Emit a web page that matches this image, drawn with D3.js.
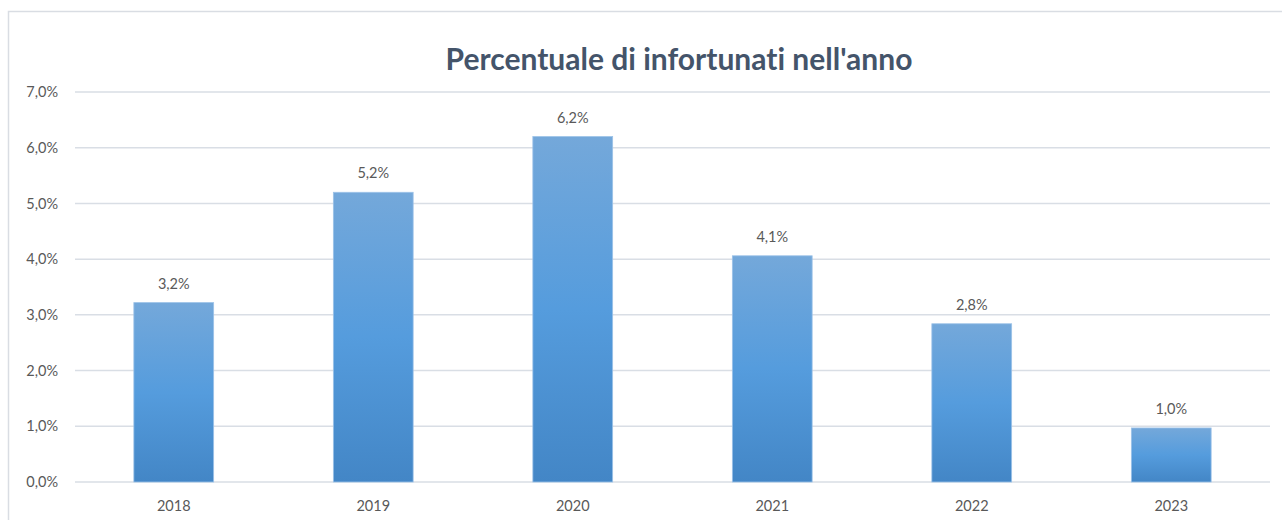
<!DOCTYPE html>
<html><head><meta charset="utf-8">
<script src="https://cdn.jsdelivr.net/npm/d3@7"></script>
<style>body{margin:0;background:#fff;}svg{display:block;font-family:Lato,"Open Sans",sans-serif;font-variant-ligatures:none;}</style>
</head><body>
<svg id="c" width="1282" height="520"></svg>
<script>
const categories = ["2018","2019","2020","2021","2022","2023"];
const values = [3.22, 5.2, 6.2, 4.06, 2.84, 0.97];
const yTicks = [0,1,2,3,4,5,6,7];
const title = "Percentuale di infortunati nell'anno";

const svg = d3.select("#c");

// chart border
svg.append("rect").attr("x",8.5).attr("y",11.5).attr("width",1290).attr("height",520)
  .attr("fill","none").attr("stroke","#d9dde3").attr("stroke-width",1.5);

const defs = svg.append("defs");
const g = defs.append("linearGradient").attr("id","bg").attr("x1",0).attr("y1",0).attr("x2",0).attr("y2",1);
g.append("stop").attr("offset","0%").attr("stop-color","#74a8da");
g.append("stop").attr("offset","50%").attr("stop-color","#559cdd");
g.append("stop").attr("offset","100%").attr("stop-color","#4386c6");

const x = d3.scaleBand().domain(categories).range([74, 1271]).paddingInner(0.6).paddingOuter(0.3);
const y = d3.scaleLinear().domain([0,7]).range([482, 92]);

// gridlines
svg.append("g").selectAll("line").data(yTicks).join("line")
  .attr("x1",75).attr("x2",1270).attr("y1",d=>y(d)).attr("y2",d=>y(d))
  .attr("stroke","#d9dee5").attr("stroke-width",1.5);

// y labels
const fmt = d => d3.format(".1f")(d).replace(".",",") + "%";
svg.append("g").selectAll("text").data(yTicks).join("text")
  .attr("x",58).attr("y",d=>y(d)).attr("dy","0.35em").attr("text-anchor","end")
  .attr("font-size",14.5).attr("fill","#595959").text(fmt);

// bars
svg.append("g").selectAll("rect").data(values).join("rect")
  .attr("x",(d,i)=>x(categories[i])).attr("width",x.bandwidth())
  .attr("y",d=>y(d)).attr("height",d=>y(0)-y(d))
  .attr("fill","url(#bg)").attr("stroke","#9cc2e8").attr("stroke-width",0.8);

// value labels
svg.append("g").selectAll("text").data(values).join("text")
  .attr("x",(d,i)=>x(categories[i])+x.bandwidth()/2).attr("y",d=>y(d)-14)
  .attr("text-anchor","middle").attr("font-size",14.5).attr("fill","#595959").text(fmt);

// x labels
svg.append("g").selectAll("text").data(categories).join("text")
  .attr("x",d=>x(d)+x.bandwidth()/2).attr("y",511).attr("text-anchor","middle")
  .attr("font-size",14.5).attr("fill","#595959").text(d=>d);

// title
svg.append("text").attr("x",679).attr("y",70).attr("text-anchor","middle")
  .attr("font-size",30).attr("font-weight","bold").attr("fill","#44546a").text(title);
</script>
</body></html>
